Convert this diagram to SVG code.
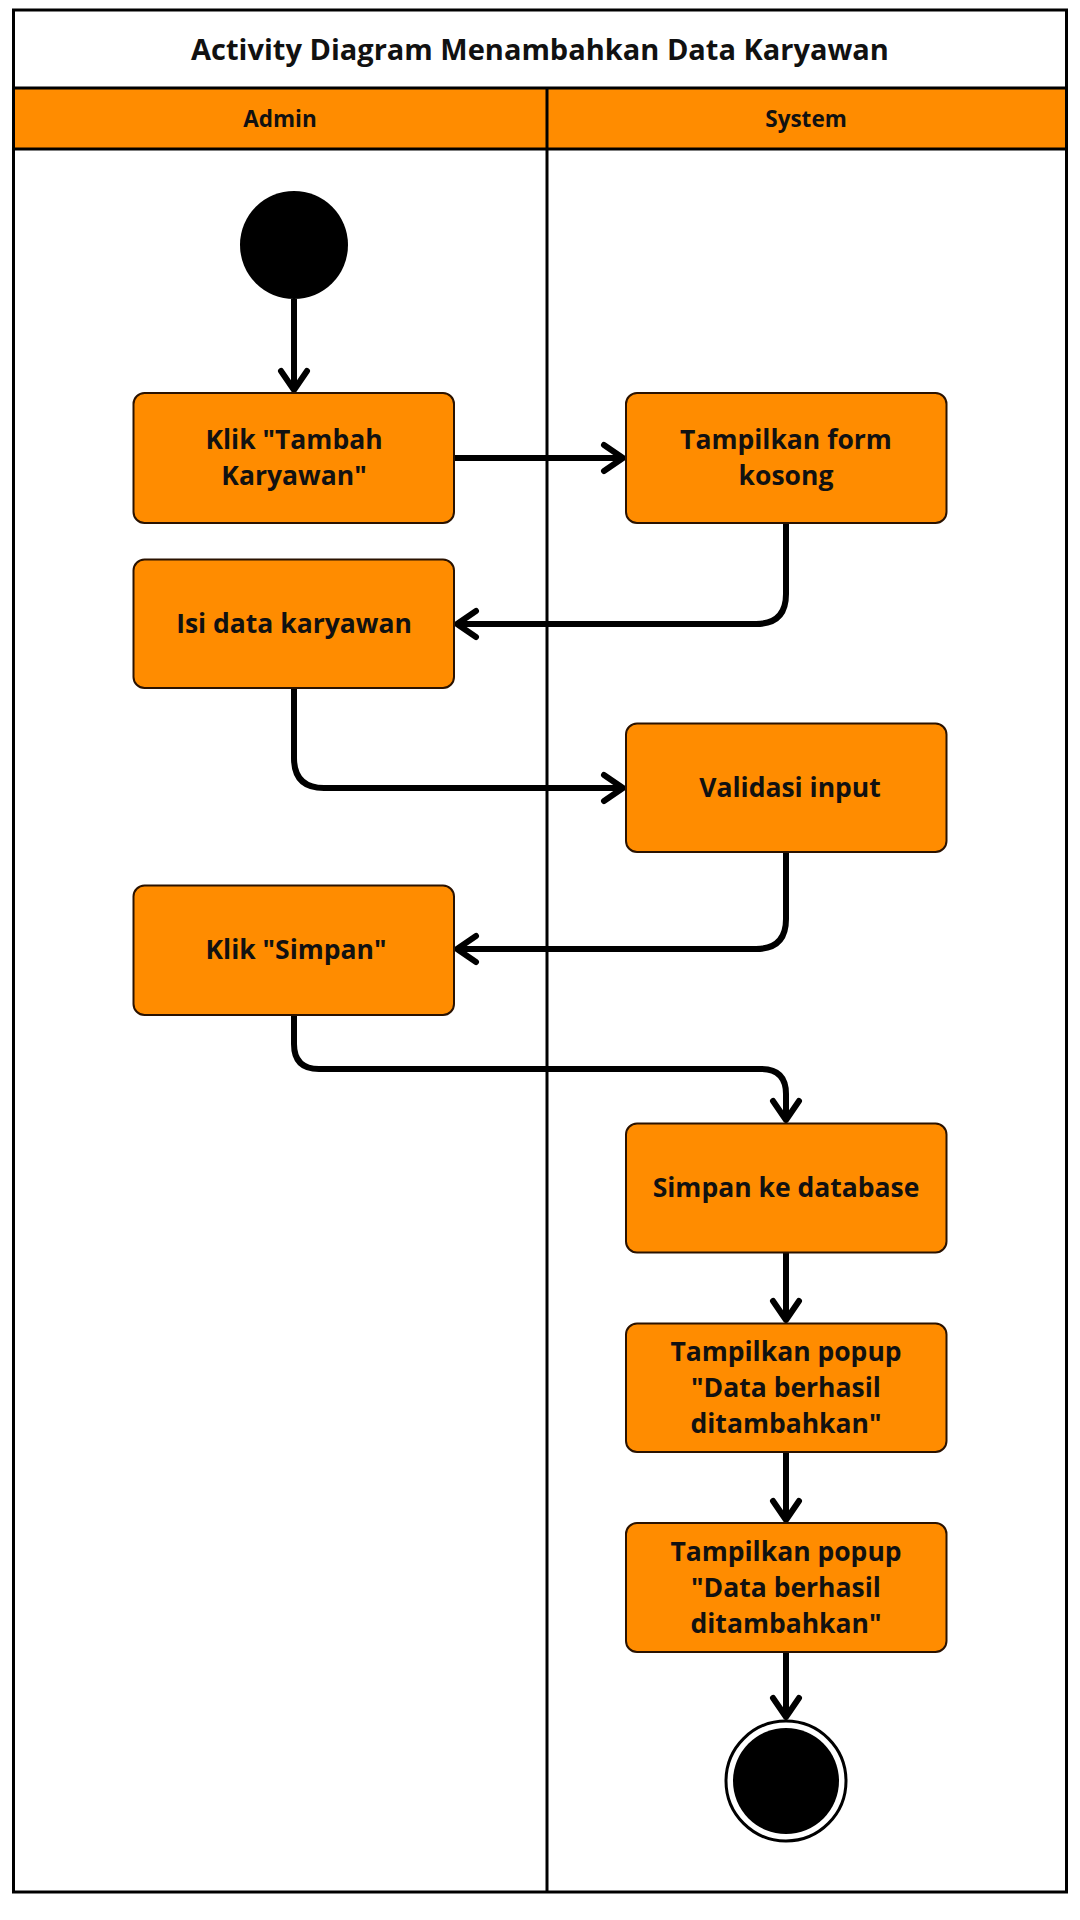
<svg xmlns="http://www.w3.org/2000/svg" width="1080" height="1920" viewBox="0 0 1080 1920">
<style>
.frame{fill:none;stroke:#000;stroke-width:3}
.hdr{fill:#FF8C00;stroke:#000;stroke-width:3}
.box{fill:#FF8C00;stroke:#2a1200;stroke-width:2}
.t{font-family:"Open Sans","Liberation Sans",sans-serif;font-weight:700;fill:#111;text-anchor:middle}
.title{font-size:29px}
.lane{font-size:22.5px}
.bt{font-size:26.5px}
.c{fill:none;stroke:#000;stroke-width:6;stroke-linejoin:round}
</style>
<defs>
<marker id="arr" markerUnits="userSpaceOnUse" viewBox="-2 -2 28 32" markerWidth="28" markerHeight="32" refX="21" refY="14" orient="auto" overflow="visible">
<path d="M1,1 L20,14 L1,27" fill="none" stroke="#000" stroke-width="6" stroke-linecap="round" stroke-linejoin="round"/>
</marker>
</defs>
<rect x="0" y="0" width="1080" height="1920" fill="#fff"/>
<g id="swimlanes">
<rect x="13.5" y="88" width="1053" height="61" class="hdr"/>
<rect x="13.5" y="10" width="1053" height="1882" class="frame"/>
<line x1="547" y1="88" x2="547" y2="1892" stroke="#000" stroke-width="3"/>
<text x="540" y="60" class="t title">Activity Diagram Menambahkan Data Karyawan</text>
<text x="280" y="127" class="t lane">Admin</text>
<text x="806" y="127" class="t lane">System</text>
</g>
<g id="connectors">
<path class="c" d="M294,299 L294,391" marker-end="url(#arr)"/>
<path class="c" d="M454,458 L624,458" marker-end="url(#arr)"/>
<path class="c" d="M786,523 L786,594 Q786,624 756,624 L456,624" marker-end="url(#arr)"/>
<path class="c" d="M294,688 L294,758 Q294,788 324,788 L624,788" marker-end="url(#arr)"/>
<path class="c" d="M786,852 L786,919 Q786,949 756,949 L456,949" marker-end="url(#arr)"/>
<path class="c" d="M294,1015 L294,1044 Q294,1069 319,1069 L761,1069 Q786,1069 786,1094 L786,1121" marker-end="url(#arr)"/>
<path class="c" d="M786,1252 L786,1321" marker-end="url(#arr)"/>
<path class="c" d="M786,1452 L786,1521" marker-end="url(#arr)"/>
<path class="c" d="M786,1652 L786,1718" marker-end="url(#arr)"/>
</g>
<g id="start"><circle cx="294" cy="245" r="54" fill="#000"/></g>
<g id="n1"><rect class="box" x="133.5" y="393" width="320.5" height="130" rx="11"/>
<text class="t bt" x="294" y="449">Klik "Tambah</text><text class="t bt" x="294" y="485">Karyawan"</text></g>
<g id="n2"><rect class="box" x="626" y="393" width="320.5" height="130" rx="11"/>
<text class="t bt" x="786" y="449">Tampilkan form</text><text class="t bt" x="786" y="485">kosong</text></g>
<g id="n3"><rect class="box" x="133.5" y="559.5" width="320.5" height="128.5" rx="11"/>
<text class="t bt" x="294" y="633">Isi data karyawan</text></g>
<g id="n4"><rect class="box" x="626" y="723.5" width="320.5" height="128.5" rx="11"/>
<text class="t bt" x="790" y="797">Validasi input</text></g>
<g id="n5"><rect class="box" x="133.5" y="885.5" width="320.5" height="129.5" rx="11"/>
<text class="t bt" x="296" y="959">Klik "Simpan"</text></g>
<g id="n6"><rect class="box" x="626" y="1123.5" width="320.5" height="129" rx="11"/>
<text class="t bt" x="786" y="1197">Simpan ke database</text></g>
<g id="n7"><rect class="box" x="626" y="1323.5" width="320.5" height="128.5" rx="11"/>
<text class="t bt" x="786" y="1361">Tampilkan popup</text><text class="t bt" x="786" y="1397">"Data berhasil</text><text class="t bt" x="786" y="1433">ditambahkan"</text></g>
<g id="n8"><rect class="box" x="626" y="1523" width="320.5" height="129" rx="11"/>
<text class="t bt" x="786" y="1561">Tampilkan popup</text><text class="t bt" x="786" y="1597">"Data berhasil</text><text class="t bt" x="786" y="1633">ditambahkan"</text></g>
<g id="end"><circle cx="786" cy="1781" r="60" fill="#fff" stroke="#000" stroke-width="3"/><circle cx="786" cy="1781" r="53" fill="#000"/></g>
</svg>
